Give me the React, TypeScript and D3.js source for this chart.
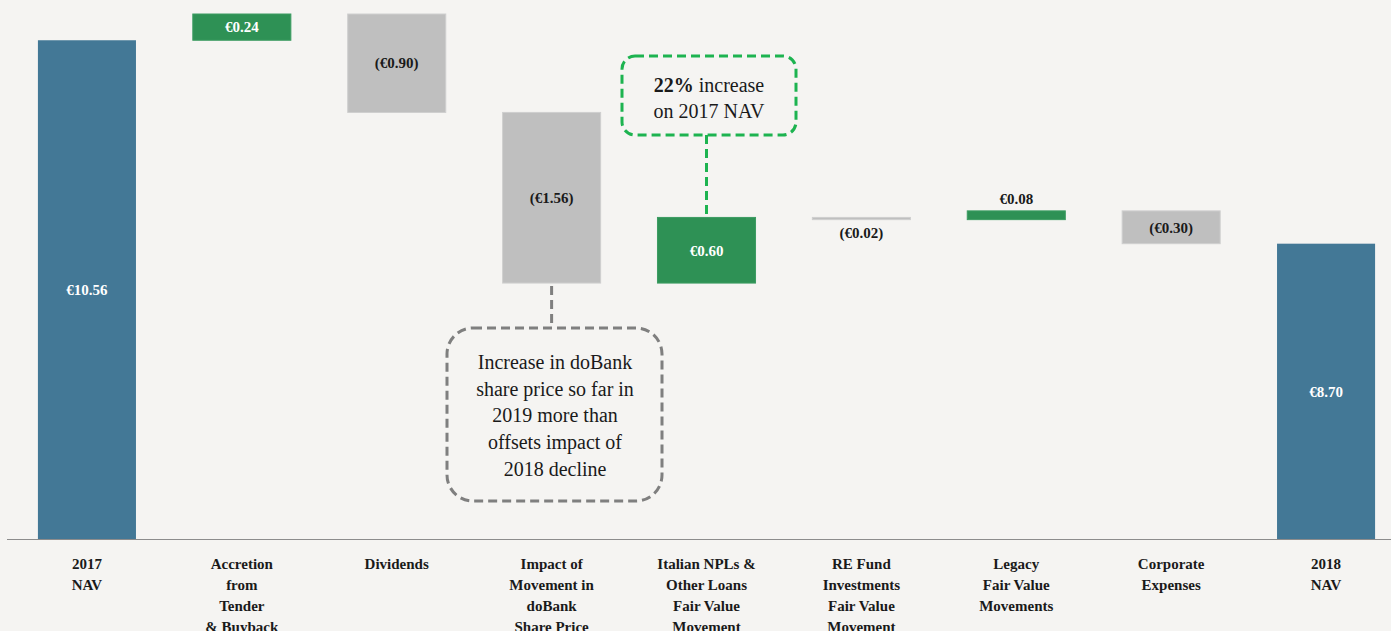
import React, { useEffect, useRef } from 'react';
import * as d3 from 'd3';

// categories + waterfall values (euro per share)
const categories = [
  ['2017', 'NAV'],
  ['Accretion', 'from', 'Tender', '& Buyback'],
  ['Dividends'],
  ['Impact of', 'Movement in', 'doBank', 'Share Price'],
  ['Italian NPLs &', 'Other Loans', 'Fair Value', 'Movement'],
  ['RE Fund', 'Investments', 'Fair Value', 'Movement'],
  ['Legacy', 'Fair Value', 'Movements'],
  ['Corporate', 'Expenses'],
  ['2018', 'NAV'],
];
const values = [10.56, 0.24, -0.9, -1.56, 0.6, -0.02, 0.08, -0.3, 8.7];
const kinds = ['total', 'delta', 'delta', 'delta', 'delta', 'delta', 'delta', 'delta', 'total'];
const valueLabels = ['€10.56', '€0.24', '(€0.90)', '(€1.56)', '€0.60', '(€0.02)', '€0.08', '(€0.30)', '€8.70'];

const W = 1391;
const H = 631;
const FONT = '"Liberation Serif", "Times New Roman", serif';

const App: React.FC = () => {
  const ref = useRef<SVGSVGElement>(null);

  useEffect(() => {
    if (!ref.current) return;
    const svg = d3.select(ref.current);
    svg.selectAll('*').remove();

    // running totals for the waterfall
    let run = 0;
    const rows = values.map((v, i) => {
      let start, end;
      if (kinds[i] === 'total') {
        start = 6; // axis is cut at 6
        end = v;
        run = v;
      } else {
        start = run;
        end = run + v;
        run = end;
      }
      return { i, v, start, end, kind: kinds[i], label: valueLabels[i] };
    });

    const x = d3.scaleBand<number>()
      .domain(d3.range(values.length))
      .range([9.5, 1403.5])
      .paddingInner(0.367)
      .paddingOuter(0.1835);

    const y = d3.scaleLinear().domain([6, 10.8]).range([539, 14]);

    svg.append('rect').attr('width', W).attr('height', H).attr('fill', '#f5f4f2');

    const color = (d) => d.kind === 'total' ? '#437896' : d.v > 0 ? '#2e9155' : '#bfbfbf';

    svg.selectAll('rect.bar')
      .data(rows)
      .enter().append('rect')
      .attr('class', 'bar')
      .attr('x', (d) => x(d.i)!)
      .attr('width', x.bandwidth())
      .attr('y', (d) => y(Math.max(d.start, d.end)))
      .attr('height', (d) => Math.max(2, Math.abs(y(d.start) - y(d.end))))
      .attr('fill', color)
      .attr('stroke', (d) => d.kind === 'total' ? 'none' : d.v > 0 ? '#3c9c62' : '#cfcfcf')
      .attr('stroke-width', 1);

    // baseline
    svg.append('line')
      .attr('x1', 7).attr('x2', W)
      .attr('y1', 539.5).attr('y2', 539.5)
      .attr('stroke', '#8c8c8c').attr('stroke-width', 1.2);

    // value labels
    svg.selectAll('text.val')
      .data(rows)
      .enter().append('text')
      .attr('class', 'val')
      .attr('x', (d) => x(d.i)! + x.bandwidth() / 2)
      .attr('y', (d) => {
        const top = y(Math.max(d.start, d.end));
        const bot = y(Math.min(d.start, d.end));
        if (bot - top < 20) return d.v > 0 ? top - 12 : bot + 13;
        return (top + bot) / 2;
      })
      .attr('dy', '0.35em')
      .attr('text-anchor', 'middle')
      .style('font-family', FONT)
      .style('font-weight', 'bold')
      .style('font-size', '15px')
      .attr('fill', (d) => {
        const h = Math.abs(y(d.start) - y(d.end));
        if (h < 20) return '#1a1a1a';
        return d.kind === 'total' || d.v > 0 ? '#ffffff' : '#1a1a1a';
      })
      .text((d) => d.label);

    // category labels
    const cat = svg.selectAll('text.cat')
      .data(categories)
      .enter().append('text')
      .attr('class', 'cat')
      .attr('text-anchor', 'middle')
      .style('font-family', FONT)
      .style('font-weight', 'bold')
      .style('font-size', '15px')
      .attr('fill', '#1a1a1a');
    cat.selectAll('tspan')
      .data((d, i) => d.map((t) => ({ t, i })))
      .enter().append('tspan')
      .attr('x', (d) => x(d.i)! + x.bandwidth() / 2)
      .attr('y', (d, j) => 569 + j * 21)
      .text((d) => d.t);

    // green callout
    const gx = x(4)! + x.bandwidth() / 2;
    svg.append('line')
      .attr('x1', gx).attr('x2', gx)
      .attr('y1', 135).attr('y2', y(rows[4].end))
      .attr('stroke', '#1db350').attr('stroke-width', 3)
      .attr('stroke-dasharray', '9,5');
    svg.append('rect')
      .attr('x', 622).attr('y', 56).attr('width', 174).attr('height', 79)
      .attr('rx', 13)
      .attr('fill', '#f5f4f2')
      .attr('stroke', '#1db350').attr('stroke-width', 3)
      .attr('stroke-dasharray', '9,5');
    const gt = svg.append('text')
      .attr('text-anchor', 'middle')
      .style('font-family', FONT)
      .style('font-size', '20px')
      .attr('fill', '#1a1a1a');
    const l1 = gt.append('tspan').attr('x', 709).attr('y', 92);
    l1.append('tspan').style('font-weight', 'bold').text('22%');
    l1.append('tspan').text(' increase');
    gt.append('tspan').attr('x', 709).attr('y', 118).text('on 2017 NAV');

    // gray callout
    const px = x(3)! + x.bandwidth() / 2;
    svg.append('line')
      .attr('x1', px).attr('x2', px)
      .attr('y1', y(rows[3].end) + 3).attr('y2', 328)
      .attr('stroke', '#7f7f7f').attr('stroke-width', 3)
      .attr('stroke-dasharray', '9,5');
    svg.append('rect')
      .attr('x', 447).attr('y', 328).attr('width', 215).attr('height', 173)
      .attr('rx', 26)
      .attr('fill', 'none')
      .attr('stroke', '#7f7f7f').attr('stroke-width', 3)
      .attr('stroke-dasharray', '9,5');
    const note = ['Increase in doBank', 'share price so far in', '2019 more than', 'offsets impact of', '2018 decline'];
    svg.append('text')
      .attr('text-anchor', 'middle')
      .style('font-family', FONT)
      .style('font-size', '20px')
      .attr('fill', '#1a1a1a')
      .selectAll('tspan')
      .data(note)
      .enter().append('tspan')
      .attr('x', 555)
      .attr('y', (d, i) => 369 + i * 26.7)
      .text((d) => d);
  }, []);

  return (
    <svg
      ref={ref}
      width={W}
      height={H}
      style={{ position: 'fixed', top: 0, left: 0, display: 'block' }}
    ></svg>
  );
};

export default App;
